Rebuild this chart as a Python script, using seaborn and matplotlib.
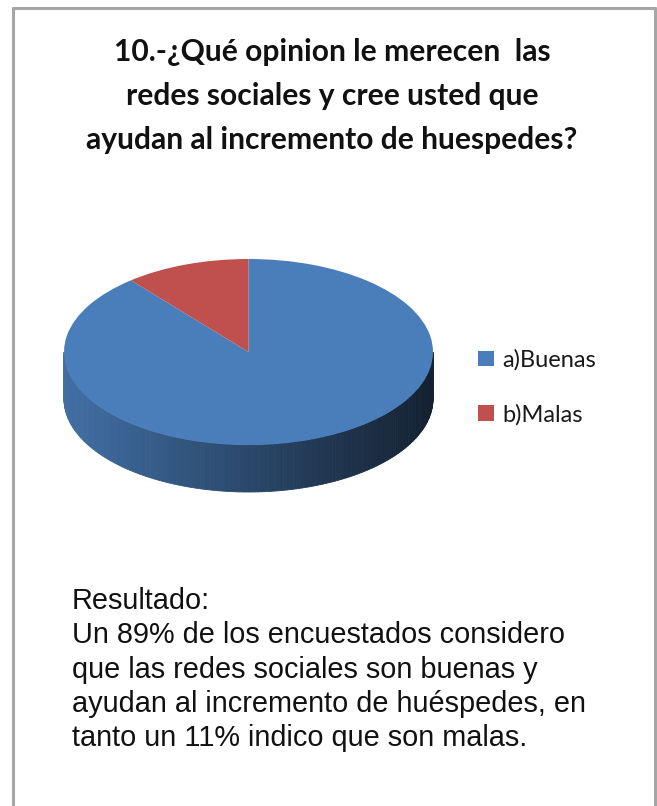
import numpy as np
import matplotlib
matplotlib.use("Agg")
import matplotlib.pyplot as plt
from matplotlib.lines import Line2D
import seaborn as sns

# Survey answers (percent of respondents)
categories = ["a)Buenas", "b)Malas"]
shares = [89, 11]
palette = ["#4A7EBB", "#C0504D"]

title_lines = [
    "10.-¿Qué opinion le merecen  las",
    "redes sociales y cree usted que",
    "ayudan al incremento de huespedes?",
]
result_lines = [
    "Resultado:",
    "Un 89% de los encuestados considero",
    "que las redes sociales son buenas y",
    "ayudan al incremento de huéspedes, en",
    "tanto un 11% indico que son malas.",
]

sns.set_theme(style="white")
colors = sns.color_palette(palette)

W, H = 657, 806
fig = plt.figure(figsize=(W / 100, H / 100), dpi=100)
fig.patch.set_facecolor("white")


def fx(px):
    return px / W


def fy(py):
    return 1 - py / H


# ---- pie, drawn as a tilted disc -------------------------------------------
ax_l, ax_r, ax_t, ax_b = 44, 453, 248, 505
cx, cy, rx, ry = 248.5, 352, 184.5, 93
ax = fig.add_axes([fx(ax_l), fy(ax_b), (ax_r - ax_l) / W, (ax_b - ax_t) / H])
wedges, _ = ax.pie(shares, colors=colors, startangle=90, counterclock=False,
                   wedgeprops=dict(linewidth=0, zorder=3))
ax.set_aspect("auto")
ax.set_xlim((ax_l - cx) / rx, (ax_r - cx) / rx)
ax.set_ylim(-(ax_b - cy) / ry, (cy - ax_t) / ry)
ax.axis("off")

depth = 47 / ry


def wedge_at(angle):
    for w in wedges:
        for k in (-360, 0, 360):
            if w.theta1 <= angle + k <= w.theta2:
                return w
    return wedges[0]


# front rim of the disc, shaded from left (lighter) to right (darker)
edges = np.linspace(180, 360, 181)
for a0, a1 in zip(edges[:-1], edges[1:]):
    am = 0.5 * (a0 + a1)
    w = wedge_at(am)
    base = np.array(w.get_facecolor()[:3])
    t = (np.cos(np.radians(am)) + 1) / 2
    f = 0.88 - 0.62 * t
    c = tuple(np.clip(base * f, 0, 1))
    r0, r1 = np.radians(a0), np.radians(a1)
    xs = [np.cos(r0), np.cos(r1), np.cos(r1), np.cos(r0)]
    ys = [np.sin(r0), np.sin(r1), np.sin(r1) - depth, np.sin(r0) - depth]
    ax.fill(xs, ys, color=c, linewidth=0.6, edgecolor=c, zorder=2)

# ---- legend ----------------------------------------------------------------
leg = fig.legend(wedges, categories, loc="upper left",
                 bbox_to_anchor=(fx(469), fy(340)), frameon=False,
                 handlelength=0.64, handleheight=0.64, handletextpad=0.38,
                 labelspacing=1.4, borderaxespad=0, borderpad=0.4,
                 prop=dict(family=["Lato", "DejaVu Sans"], size=17))
for txt in leg.get_texts():
    txt.set_color("#1a1a1a")

# ---- title -----------------------------------------------------------------
for i, line in enumerate(title_lines):
    fig.text(fx(332), fy(52 + 44 * i), line, ha="center", va="center",
             fontsize=21.6, fontweight="bold", color="#111111",
             family=["Lato", "DejaVu Sans"])

# ---- result text -----------------------------------------------------------
for i, line in enumerate(result_lines):
    fig.text(fx(72), fy(601 + 34.3 * i), line, ha="left", va="center",
             fontsize=20.8, color="#111111",
             family=["Liberation Sans", "DejaVu Sans"])

# ---- frame -----------------------------------------------------------------
frame_kw = dict(color="#A6A6A6", linewidth=2.2, transform=fig.transFigure)
fig.add_artist(Line2D([fx(13), fx(13)], [fy(8), 0], **frame_kw))
fig.add_artist(Line2D([fx(13), fx(655)], [fy(8), fy(8)], **frame_kw))
fig.add_artist(Line2D([fx(655), fx(655)], [fy(8), 0], **frame_kw))

fig.savefig("out.png", dpi=100, facecolor="white")
